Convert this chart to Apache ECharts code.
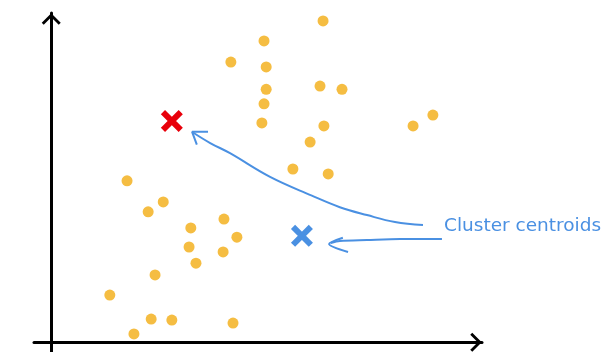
<!DOCTYPE html>
<html>
<head>
<meta charset="utf-8">
<script src="https://cdn.jsdelivr.net/npm/echarts@6/dist/echarts.min.js"></script>
<style>
html,body{margin:0;padding:0;background:#fff;}
#chart{width:605px;height:352px;}
</style>
</head>
<body>
<div id="chart"></div>
<script>
// Data points (feature 1, feature 2)
const pointsX = [1.76,2.60,2.25,3.24,4.01,4.31,3.20,3.99,3.36,2.41,1.36,2.32,2.80,4.22,1.92,
                 6.31,4.94,4.17,4.99,6.24,6.75,4.99,4.94,4.89,6.33,6.01,5.61,6.43,8.40,8.86];
const pointsY = [4.90,4.26,3.96,3.47,3.74,3.19,2.89,2.74,2.40,2.04,1.43,0.70,0.67,0.58,0.25,
                 9.76,9.15,8.51,8.36,7.78,7.68,7.68,7.24,6.66,6.57,6.08,5.26,5.11,6.57,6.90];
// Cluster centroids
const centroidRed = [2.80, 6.72];
const centroidBlue = [5.82, 3.23];
// Annotation arrows (in data units)
const arrow1Path = [[8.63,3.56],[7.98,3.65],[7.33,3.86],[6.70,4.10],[6.05,4.45],[5.08,5.02],[4.15,5.74],[3.69,6.05],[3.29,6.37]];
const arrow1Head = [[3.64,6.39],[3.27,6.39],[3.38,6.00]];
const arrow2Path = [[9.07,3.13],[8.10,3.13],[7.33,3.10],[6.70,3.07],[6.49,3.01]];
const arrow2Head = [[6.77,3.17],[6.45,2.98],[6.89,2.74]];
const labelText = 'Cluster centroids';

const chevron = 'path://M9.5,0 L19,9.5 L17,11.5 L9.5,4 L2,11.5 L0,9.5 Z';
const cross = 'path://M0,19 L19,0 L100,81 L81,100 Z M81,0 L100,19 L19,100 L0,81 Z';
const blue = '#4A90E2';

const chart = echarts.init(document.getElementById('chart'), null, {renderer:'canvas'});
const pts = pointsX.map((x,i)=>[x, pointsY[i]]);

chart.setOption({
  animation: false,
  backgroundColor: '#fff',
  grid: {left: 34, right: 123, top: 13, bottom: 0, containLabel: false},
  xAxis: {
    type: 'value', min: -0.4, max: 10,
    axisLine: {onZero: true, lineStyle: {color: '#000', width: 3},
      symbol: ['none', chevron], symbolSize: [19, 11.5], symbolOffset: [0, -6]},
    axisTick: {show: false}, axisLabel: {show: false}, splitLine: {show: false}
  },
  yAxis: {
    type: 'value', min: -0.3, max: 10,
    axisLine: {onZero: true, lineStyle: {color: '#000', width: 3},
      symbol: ['none', chevron], symbolSize: [19, 11.5], symbolOffset: [0, -6]},
    axisTick: {show: false}, axisLabel: {show: false}, splitLine: {show: false}
  },
  series: [
    {type: 'scatter', data: pts, symbolSize: 11, itemStyle: {color: '#F5BD42', opacity: 1}, z: 3},
    {type: 'scatter', data: [centroidRed], symbol: cross, symbolSize: 22, itemStyle: {color: '#E8000B', opacity: 1}, z: 4},
    {type: 'scatter', data: [centroidBlue], symbol: cross, symbolSize: 22, itemStyle: {color: '#4A90E2', opacity: 1}, z: 4},
    {type: 'line', data: arrow1Path, smooth: 0.4, showSymbol: false, lineStyle: {color: blue, width: 2}, z: 2},
    {type: 'line', data: arrow1Head, showSymbol: false, lineStyle: {color: blue, width: 2}, z: 2},
    {type: 'line', data: arrow2Path, smooth: 0.3, showSymbol: false, lineStyle: {color: blue, width: 2}, z: 2},
    {type: 'line', data: arrow2Head, smooth: 0.3, showSymbol: false, lineStyle: {color: blue, width: 2}, z: 2}
  ],
  graphic: [
    {type: 'text', left: 444, top: 217, style: {text: labelText, fill: blue, fontSize: 18.5, fontFamily: 'DejaVu Sans'}}
  ]
});
</script>
</body>
</html>
